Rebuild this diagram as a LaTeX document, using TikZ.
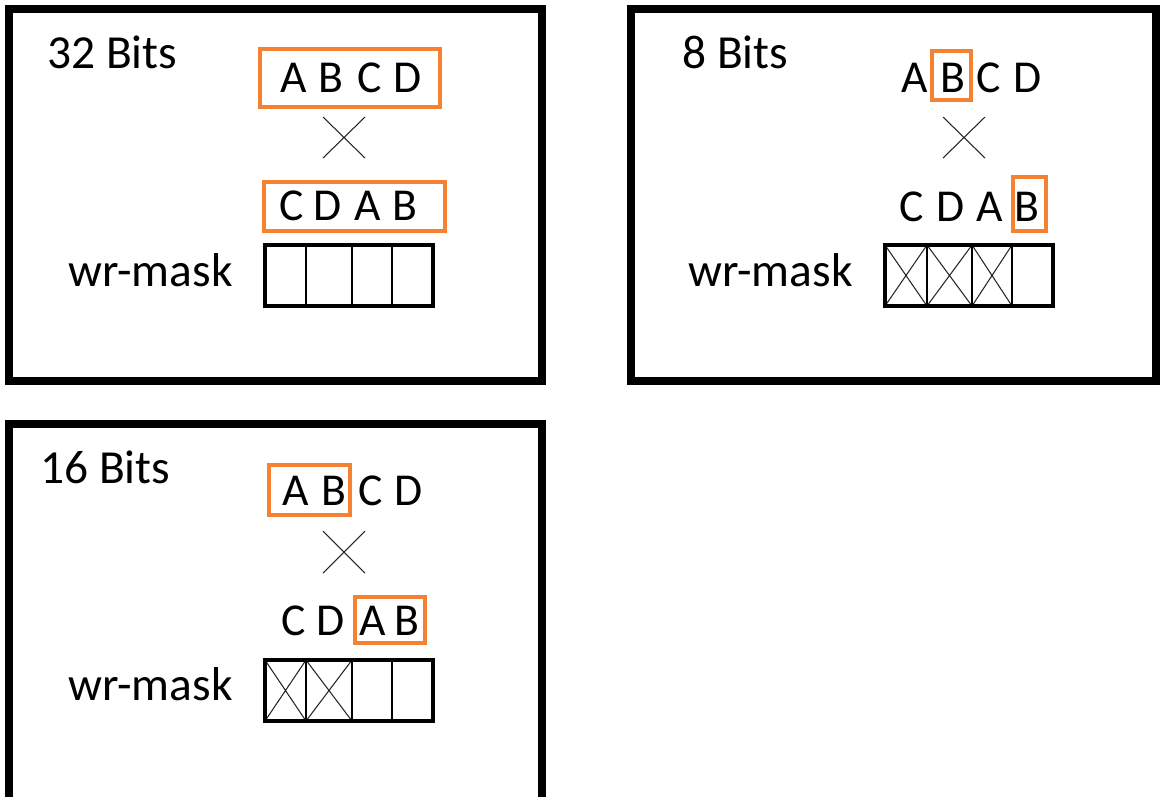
\documentclass[tikz,border=0pt]{standalone}
\usepackage{fontspec}
\setmainfont{Carlito}
\definecolor{org}{RGB}{245,130,50}
\begin{document}
\begin{tikzpicture}[x=0.02cm,y=-0.02cm,
  frame/.style={line width=4pt},
  obox/.style={draw=org, line width=2.3pt},
  mbox/.style={line width=2.8pt},
  divl/.style={line width=1pt},
  thinl/.style={line width=0.6pt, draw=black!85},
  lbl/.style={anchor=base west, inner sep=0pt, font=\fontsize{27}{32}\selectfont},
  ltr/.style={anchor=base, inner sep=0pt, font=\fontsize{26}{30}\selectfont}]
\useasboundingbox (0,0) rectangle (1160,796);
\clip (0,0) rectangle (1160,796);
\fill[white] (0,0) rectangle (1160,796);

% ---------- Panel 1: 32 Bits ----------
\draw[frame] (9,9) rectangle (542,381);
\node[lbl] (t1) at (47,68) {32 Bits};
\draw[obox] (260,49) rectangle (440,107);
\node[ltr] (p1a) at (294,92) {A};
\node[ltr] (p1b) at (331,92) {B};
\node[ltr] (p1c) at (370,92) {C};
\node[ltr] (p1d) at (408,92) {D};
\draw[thinl] (323,117) -- (365,158) (365,117) -- (323,158);
\draw[obox] (264,182) rectangle (445,231);
\node[ltr] (q1c) at (292,220) {C};
\node[ltr] (q1d) at (328,220) {D};
\node[ltr] (q1a) at (368,220) {A};
\node[ltr] (q1b) at (405,220) {B};
\node[lbl] (m1) at (68,286) {wr-mask};
\foreach \x in {306,352,392} \draw[divl] (\x,245) -- (\x,306);
\draw[mbox] (265,245) rectangle (433,306);

% ---------- Panel 2: 8 Bits ----------
\draw[frame] (631,9) rectangle (1156,381);
\node[lbl] (t2) at (682,68) {8 Bits};
\node[ltr] (p2a) at (915,92) {A};
\node[ltr] (p2b) at (953,92) {B};
\node[ltr] (p2c) at (989,92) {C};
\node[ltr] (p2d) at (1028,92) {D};
\draw[obox] (932,51) rectangle (971,100);
\draw[thinl] (943,117) -- (985,158) (985,117) -- (943,158);
\node[ltr] (q2c) at (912,221) {C};
\node[ltr] (q2d) at (951,221) {D};
\node[ltr] (q2a) at (990,221) {A};
\node[ltr] (q2b) at (1027,221) {B};
\draw[obox] (1013,177) rectangle (1046,231);
\node[lbl] (m2) at (688,286) {wr-mask};
\draw[thinl] (885,245) -- (927,306) (927,245) -- (885,306);
\draw[thinl] (927,245) -- (972,306) (972,245) -- (927,306);
\draw[thinl] (972,245) -- (1012,306) (1012,245) -- (972,306);
\foreach \x in {927,972,1012} \draw[divl] (\x,245) -- (\x,306);
\draw[mbox] (885,245) rectangle (1053,306);

% ---------- Panel 3: 16 Bits ----------
\draw[frame] (9,424) rectangle (542,830);
\node[lbl] (t3) at (40,483) {16 Bits};
\draw[obox] (269,465) rectangle (350,515);
\node[ltr] (p3a) at (296,505) {A};
\node[ltr] (p3b) at (334,505) {B};
\node[ltr] (p3c) at (371,505) {C};
\node[ltr] (p3d) at (409,505) {D};
\draw[thinl] (323,531) -- (365,573) (365,531) -- (323,573);
\node[ltr] (q3c) at (294,635) {C};
\node[ltr] (q3d) at (331,635) {D};
\node[ltr] (q3a) at (373,635) {A};
\node[ltr] (q3b) at (407,635) {B};
\draw[obox] (355,597) rectangle (425,643);
\node[lbl] (m3) at (68,700) {wr-mask};
\draw[thinl] (265,660) -- (306,721) (306,660) -- (265,721);
\draw[thinl] (306,660) -- (352,721) (352,660) -- (306,721);
\foreach \x in {306,352,392} \draw[divl] (\x,660) -- (\x,721);
\draw[mbox] (265,660) rectangle (433,721);
\end{tikzpicture}
\end{document}
